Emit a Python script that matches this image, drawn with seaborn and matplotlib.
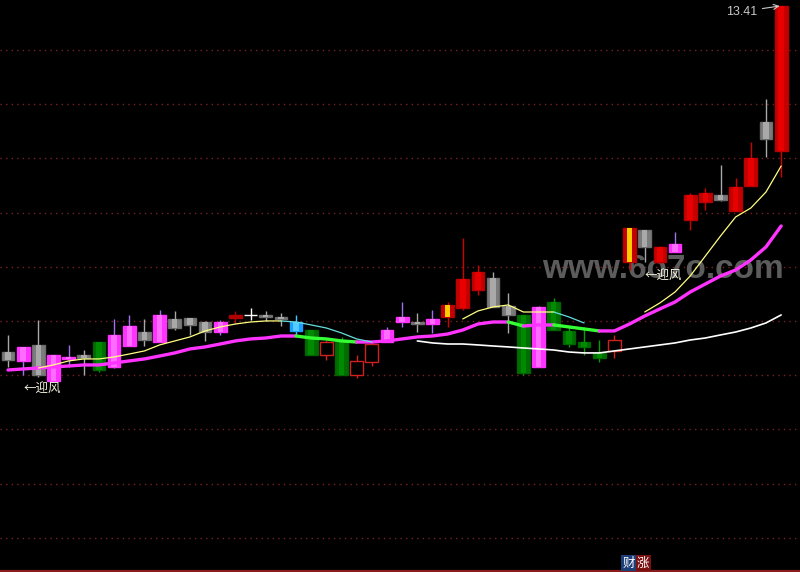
import numpy as np
import seaborn as sns
import matplotlib.pyplot as plt

nan = np.nan

# --- candles (price units) ---
opens = [10.40, 10.39, 10.53, 10.22, 10.41, 10.42, 10.55, 10.34, 10.52, 10.64,
         10.55, 10.75, 10.76, 10.72, 10.64, 10.76, 10.78, 10.78, 10.77, 10.65,
         10.66, 10.44, 10.55, 10.27, 10.38, 10.55, 10.72, 10.72, 10.71, 10.77,
         10.84, 11.00, 11.10, 10.86, 10.78, 10.34, 10.89, 10.65, 10.55, 10.46,
         10.48, 11.23, 11.51, 11.23, 11.32, 11.59, 11.74, 11.76, 11.67, 11.88,
         12.42, 12.18]
closes = [10.47, 10.51, 10.27, 10.44, 10.43, 10.44, 10.32, 10.61, 10.69, 10.57,
          10.78, 10.67, 10.70, 10.64, 10.72, 10.78, 10.78, 10.77, 10.75, 10.72,
          10.44, 10.55, 10.27, 10.39, 10.54, 10.66, 10.77, 10.71, 10.75, 10.87,
          11.09, 11.15, 10.85, 10.78, 10.29, 10.85, 10.66, 10.54, 10.51, 10.42,
          10.57, 11.52, 11.36, 11.36, 11.39, 11.80, 11.82, 11.80, 11.87, 12.12,
          12.28, 13.41]
highs = [10.61, 10.51, 10.74, 10.44, 10.53, 10.49, 10.55, 10.75, 10.78, 10.75,
         10.83, 10.82, 10.76, 10.73, 10.74, 10.82, 10.84, 10.82, 10.80, 10.78,
         10.66, 10.57, 10.60, 10.44, 10.55, 10.68, 10.89, 10.80, 10.83, 10.89,
         11.44, 11.21, 11.15, 10.97, 10.78, 10.86, 10.93, 10.68, 10.68, 10.57,
         10.61, 11.52, 11.51, 11.37, 11.49, 11.82, 11.86, 12.06, 11.95, 12.25,
         12.62, 13.41]
lows = [10.34, 10.27, 10.26, 10.22, 10.34, 10.27, 10.30, 10.33, 10.52, 10.52,
        10.55, 10.66, 10.61, 10.56, 10.61, 10.71, 10.74, 10.73, 10.69, 10.61,
        10.44, 10.40, 10.27, 10.25, 10.35, 10.55, 10.68, 10.64, 10.63, 10.68,
        10.83, 10.95, 10.85, 10.63, 10.27, 10.34, 10.66, 10.51, 10.44, 10.38,
        10.42, 11.17, 11.23, 11.22, 11.32, 11.51, 11.68, 11.75, 11.67, 11.88,
        12.13, 11.96]
kinds = ["gray", "pink", "gray", "pink", "pink", "gray", "green", "pink", "pink", "gray",
         "pink", "gray", "gray", "gray", "pink", "darkred", "white", "gray", "gray", "blue",
         "green", "hollow", "green", "hollow", "hollow", "pink", "pink", "gray", "pink", "redyellow",
         "red", "red", "gray", "gray", "green", "pink", "green", "green", "green", "green",
         "hollow", "redyellow", "gray", "red", "pink", "red", "red", "gray", "red", "red",
         "gray", "red"]

# --- moving-average style lines ---
ma_long = [10.316, 10.325, 10.333, 10.342, 10.350, 10.359, 10.359, 10.376, 10.393, 10.410,
           10.435, 10.461, 10.495, 10.512, 10.537, 10.563, 10.580, 10.588, 10.605, 10.605,
           10.588, 10.580, 10.563, 10.554, 10.554, 10.563, 10.580, 10.597, 10.605, 10.622,
           10.656, 10.707, 10.724, 10.724, 10.690, 10.699, 10.699, 10.682, 10.665, 10.648,
           10.648, 10.707, 10.775, 10.835, 10.894, 10.979, 11.047, 11.115, 11.166, 11.251,
           11.362, 11.540]
ma_short = [nan, nan, 10.333, 10.359, 10.393, 10.410, 10.410, 10.427, 10.452, 10.478,
            10.529, 10.563, 10.597, 10.648, 10.682, 10.707, 10.724, 10.733, 10.733, 10.724,
            10.699, 10.673, 10.631, 10.580, 10.554, nan, nan, nan, nan, nan,
            10.750, 10.818, 10.852, 10.869, 10.809, 10.809, 10.809, 10.767, 10.716, nan,
            nan, nan, 10.809, 10.886, 10.979, 11.115, 11.285, 11.455, 11.617, 11.693,
            11.829, 12.050]
ma_white = [nan] * 27 + [10.563, 10.546, 10.537, 10.537, 10.529, 10.520, 10.512, 10.503, 10.495,
                         10.486, 10.469, 10.461, 10.461, 10.478, 10.495, 10.512, 10.529, 10.546,
                         10.571, 10.588, 10.614, 10.639, 10.673, 10.716, 10.784]
short_cyan_spans = [(18, 24), (36, 38)]

last_label = "13.41"
tag_text = "←迎风"
tag_spots = [1, 42]

styles = {
    # kind: wick, face, inner highlight, edge
    "gray": ("#a8a8a8", "#7c7c7c", "#a9a9a9", "#6c6c6c"),
    "pink": ("#a070f0", "#ff33ff", "#ff6cff", "#ff33ff"),
    "green": ("#00a000", "#006e00", "#008a00", "#006400"),
    "red": ("#d00000", "#c40000", "#e80000", "#b80000"),
    "hollow": ("#d02020", "#000000", None, "#d02020"),
    "blue": ("#40c8ff", "#1a9fff", "#55ccff", "#1a9fff"),
    "redyellow": ("#d00000", "#c40000", "#ffcc00", "#b80000"),
    "darkred": ("#b00000", "#b00000", None, "#b00000"),
    "white": ("#ffffff", "#ffffff", None, "#ffffff"),
}


def segment_runs(y, seg_colors):
    # group consecutive segments of the same colour into polylines
    runs = []
    for i in range(1, len(y)):
        if np.isnan(y[i]) or np.isnan(y[i - 1]):
            continue
        c = seg_colors[i]
        if runs and runs[-1][0] == c and runs[-1][1][-1] == i - 1:
            runs[-1][1].append(i)
        else:
            runs.append((c, [i - 1, i]))
    return runs


sns.set_theme(style="dark")
plt.rcParams['font.family'] = ['Noto Sans CJK SC', 'DejaVu Sans']

fig = plt.figure(figsize=(8, 5.72), dpi=100, facecolor="black")
ax = fig.add_axes([0, 0, 1, 1])
ax.set_facecolor("black")

n = len(opens)
x = np.arange(n)
o, c = np.array(opens), np.array(closes)
hi, lo = np.array(highs), np.array(lows)
body_lo = np.minimum(o, c)
body_hi = np.maximum(o, c)

# pixel grid of the terminal: 0.0085 per pixel, top at 13.461
ax.set_xlim(-0.528, 52.243)
ax.set_ylim(8.599, 13.461)
for py in 50 + 54.2 * np.arange(10):
    ax.axhline(13.461 - 0.0085 * py, color="#7a2222", lw=1, ls=(0, (1, 3)), zorder=1)
ax.axhline(8.6075, color="#8b1c1c", lw=1.6, zorder=1)

ax.text(0.829, 0.514, "www.6o7o.com", transform=ax.transAxes, ha="center", va="baseline",
        fontsize=24, fontweight="bold", family="Liberation Sans", color="#5c5c5c", zorder=1.5)

for kind, (wick, face, inner, edge) in styles.items():
    idx = [i for i, k in enumerate(kinds) if k == kind]
    if not idx:
        continue
    ax.vlines(x[idx], lo[idx], hi[idx], color=wick, lw=1, zorder=2)
    ax.bar(x[idx], body_hi[idx] - body_lo[idx], bottom=body_lo[idx], width=0.84,
           color=face, edgecolor=edge, lw=1.0, zorder=3)
    if inner is not None:
        ax.bar(x[idx], body_hi[idx] - body_lo[idx], bottom=body_lo[idx], width=0.36,
               color=inner, lw=0, zorder=3.5)

# lines
long_cols = ["#ff33ff"] + ["#ff33ff" if ma_long[i] >= ma_long[i - 1] else "#33ff33" for i in range(1, n)]
short_cols = ["#ffff80"] * n
for a, b in short_cyan_spans:
    for i in range(a + 1, b + 1):
        short_cols[i] = "#66dddd"
white_cols = ["#ffffff"] * n

for y, cols, lw in [(ma_white, white_cols, 1.2), (ma_long, long_cols, 2.4), (ma_short, short_cols, 0.9)]:
    arr = np.array(y, dtype=float)
    for col, pts in segment_runs(arr, cols):
        sns.lineplot(x=x[pts], y=arr[pts], color=col, lw=lw, ax=ax, sort=False,
                     estimator=None, zorder=5, solid_capstyle="round")

for i in tag_spots:
    ax.annotate(tag_text, xy=(x[i], lows[i]), xytext=(0, -9), textcoords="offset points",
                ha="left", va="center", fontsize=9, color="#f4f4e0", zorder=6)

ax.annotate(last_label, xy=(x[-1] - 0.1, highs[-1]), xytext=(-27, -4), textcoords="offset points",
            ha="center", va="center", fontsize=9, family="Liberation Sans", color="#c8c8c8",
            arrowprops=dict(arrowstyle="->", color="#c8c8c8", lw=0.8, shrinkA=1, shrinkB=0),
            zorder=6)

fig.text(0.786, 0.0157, "财", ha="center", va="center", fontsize=9, color="white",
         bbox=dict(boxstyle="square,pad=0.1", fc="#1d3f78", ec="none"))
fig.text(0.804, 0.0157, "涨", ha="center", va="center", fontsize=9, color="white",
         bbox=dict(boxstyle="square,pad=0.1", fc="#7a1010", ec="none"))

ax.set_xticks([])
ax.set_yticks([])
ax.set_xlabel("")
ax.set_ylabel("")
for s in ax.spines.values():
    s.set_visible(False)
legend = ax.get_legend()
if legend:
    legend.remove()

fig.savefig("out.png", dpi=100, facecolor="black")
